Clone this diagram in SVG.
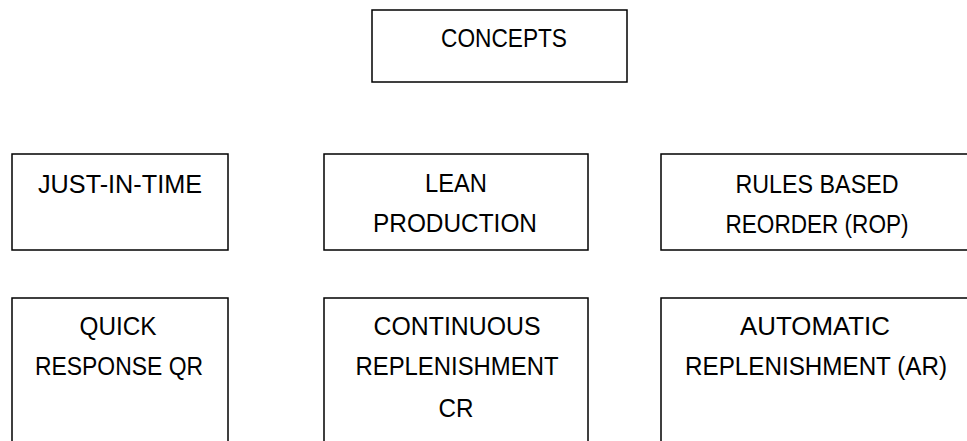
<svg xmlns="http://www.w3.org/2000/svg" width="967" height="441" viewBox="0 0 967 441">
<style>
rect.box{fill:#fff;stroke:#000;stroke-width:1.5}
text{font-family:"Liberation Sans",Arial,sans-serif;font-size:25px;fill:#000;text-anchor:middle}
</style>
<rect width="967" height="441" fill="#fff"/>
<g id="concepts"><rect class="box" x="372" y="10" width="255" height="72"/><text x="504" y="47" textLength="126" lengthAdjust="spacingAndGlyphs">CONCEPTS</text></g>
<g id="jit"><rect class="box" x="12" y="154" width="216" height="96"/><text x="120" y="193" textLength="164" lengthAdjust="spacingAndGlyphs">JUST-IN-TIME</text></g>
<g id="lean"><rect class="box" x="324" y="154" width="264" height="96"/><text x="456" y="192" textLength="62" lengthAdjust="spacingAndGlyphs">LEAN</text><text x="455" y="232" textLength="164" lengthAdjust="spacingAndGlyphs">PRODUCTION</text></g>
<g id="rop"><rect class="box" x="661" y="154" width="320" height="96"/><text x="817" y="193" textLength="163" lengthAdjust="spacingAndGlyphs">RULES BASED</text><text x="817" y="233" textLength="183" lengthAdjust="spacingAndGlyphs">REORDER (ROP)</text></g>
<g id="qr"><rect class="box" x="12" y="298" width="216" height="160"/><text x="118" y="335" textLength="77" lengthAdjust="spacingAndGlyphs">QUICK</text><text x="119" y="375" textLength="168" lengthAdjust="spacingAndGlyphs">RESPONSE QR</text></g>
<g id="cr"><rect class="box" x="324" y="298" width="264" height="160"/><text x="457" y="335" textLength="167" lengthAdjust="spacingAndGlyphs">CONTINUOUS</text><text x="457" y="375" textLength="203" lengthAdjust="spacingAndGlyphs">REPLENISHMENT</text><text x="456" y="417" textLength="35" lengthAdjust="spacingAndGlyphs">CR</text></g>
<g id="ar"><rect class="box" x="661" y="298" width="320" height="160"/><text x="815" y="335" textLength="150" lengthAdjust="spacingAndGlyphs">AUTOMATIC</text><text x="816" y="375" textLength="262" lengthAdjust="spacingAndGlyphs">REPLENISHMENT (AR)</text></g>
<g id="connectors"></g>
</svg>
